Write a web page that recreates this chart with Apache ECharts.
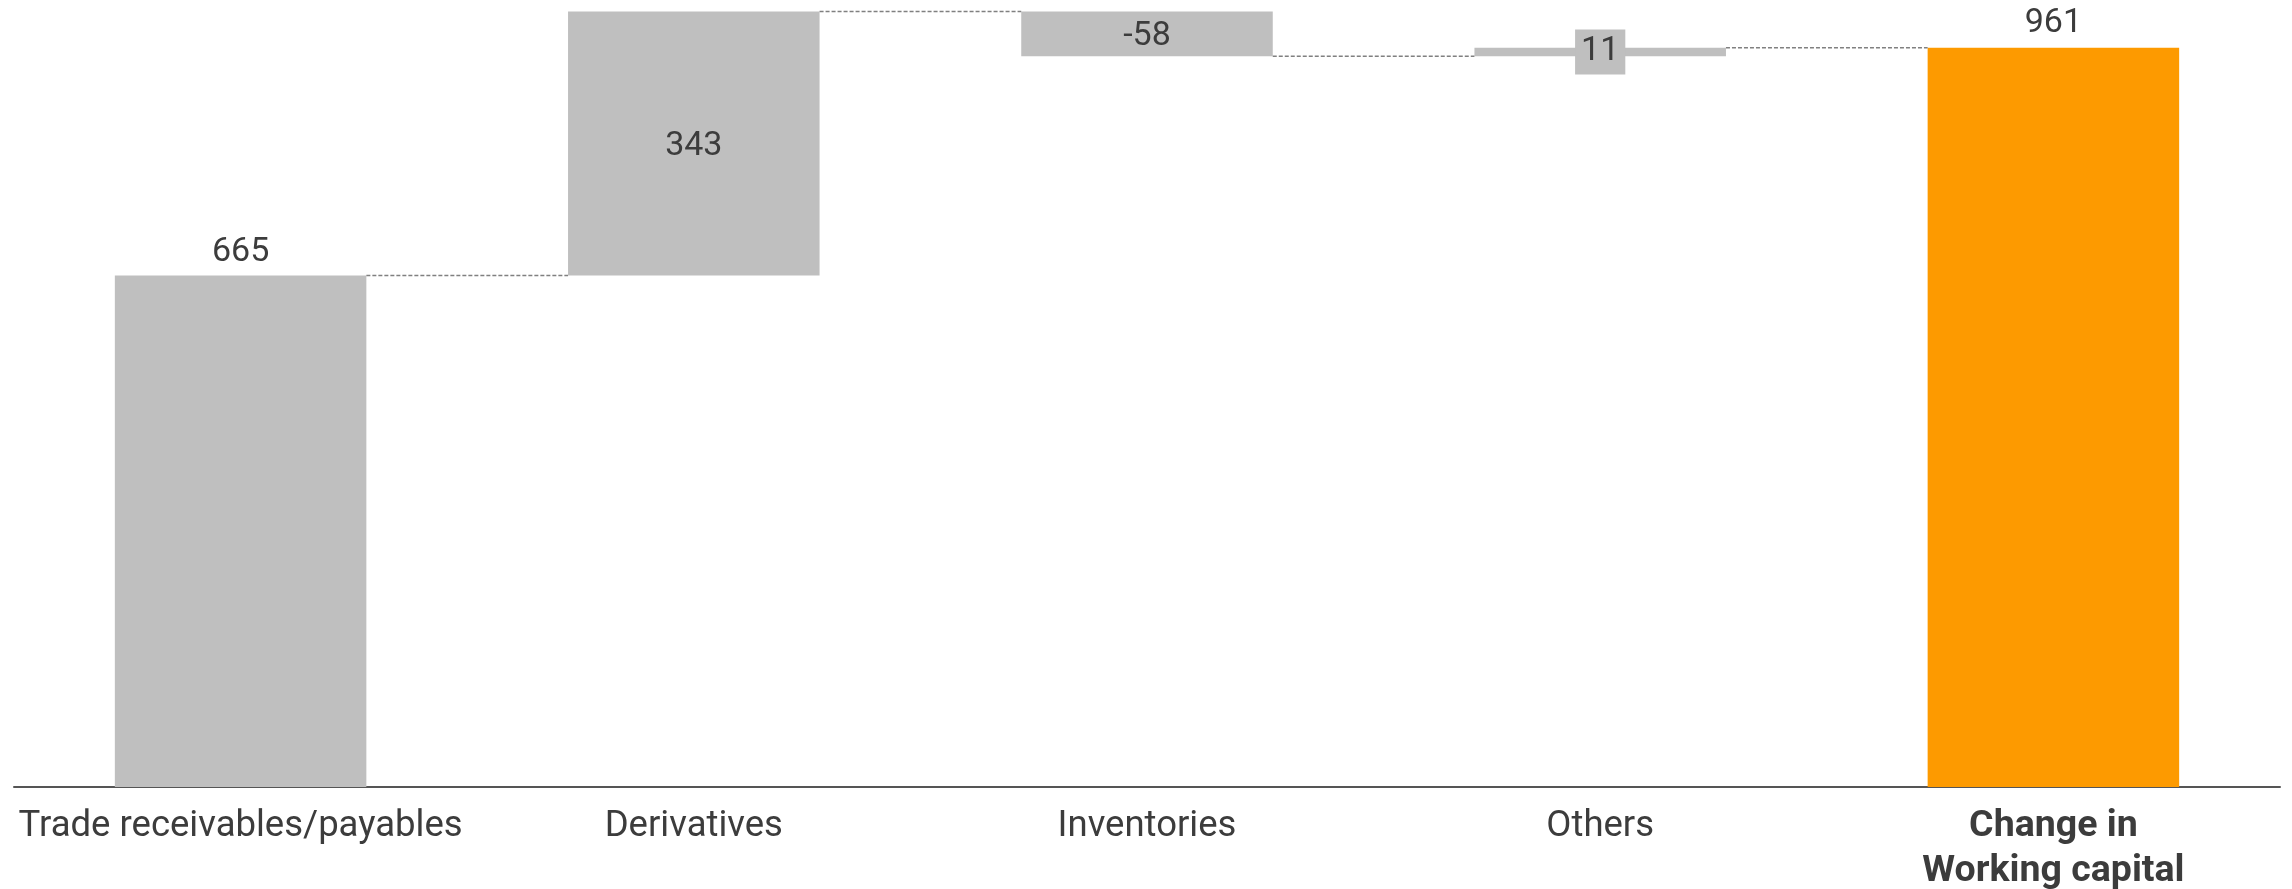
<!DOCTYPE html>
<html>
<head>
<meta charset="utf-8">
<script src="https://cdn.jsdelivr.net/npm/echarts@6/dist/echarts.min.js"></script>
<style>
	html, body { margin: 0; padding: 0; background: #fff; }
	#chart { width: 2292px; height: 889px; }
</style>
</head>
<body>
<div id="chart"></div>
<script>
// waterfall data
var categories = ['Trade receivables/payables', 'Derivatives', 'Inventories', 'Others', 'Change in\nWorking capital'];
var changes = [665, 343, -58, 11];
var total = 961;

var GREY = '#bfbfbf';
var ORANGE = '#fd9a00';
var TEXT = '#3c3c3c';
var FONT = 'Roboto, "Liberation Sans", sans-serif';

// build base / visible parts and connector levels
var baseData = [];
var valueData = [];
var levels = [];
var running = 0;
for (var i = 0; i < changes.length; i++) {
	var v = changes[i];
	var next = running + v;
	baseData.push(Math.min(running, next));
	var item = {
		value: Math.abs(v),
		raw: v,
		itemStyle: { color: GREY },
		label: { position: 'inside', offset: [0, 3] }
	};
	if (i == 0) {
		item.label = { position: 'top', distance: 6 };
	}
	if (Math.abs(v) < 30) {
		item.label = {
			position: 'inside',
			backgroundColor: GREY,
			padding: [5, 6, 5, 6],
			lineHeight: 35
		};
	}
	valueData.push(item);
	running = next;
	levels.push([i, running]);
}
baseData.push(0);
valueData.push({
	value: total,
	raw: total,
	itemStyle: { color: ORANGE },
	label: { position: 'top', distance: 7 }
});

var xLabels = categories.map(function(c, idx) {
	if (idx == categories.length - 1) {
		return { value: c, textStyle: { fontWeight: 'bold', fontSize: 37.5 } };
	}
	return c;
});

var BAR_RATIO = 0.555;

var option = {
	animation: false,
	grid: { left: 14, right: 12, top: 0, bottom: 102, containLabel: false, outerBoundsMode: 'none' },
	xAxis: {
		type: 'category',
		data: xLabels,
		axisTick: { show: false },
		axisLine: { lineStyle: { color: '#555555', width: 2 } },
		axisLabel: {
			color: TEXT,
			fontFamily: FONT,
			fontSize: 36.5,
			lineHeight: 45,
			margin: 17,
			interval: 0
		}
	},
	yAxis: {
		type: 'value',
		min: 0,
		max: 1023,
		show: false,
		splitLine: { show: false }
	},
	series: [
		{
			type: 'bar',
			stack: 'wf',
			data: baseData,
			barWidth: (BAR_RATIO * 100) + '%',
			itemStyle: { color: 'transparent' },
			silent: true
		},
		{
			type: 'bar',
			stack: 'wf',
			data: valueData,
			barWidth: (BAR_RATIO * 100) + '%',
			label: {
				show: true,
				color: TEXT,
				fontFamily: FONT,
				fontSize: 34,
				formatter: function(p) { return p.data.raw; }
			}
		},
		{
			type: 'custom',
			data: levels,
			z: 5,
			renderItem: function(params, api) {
				var p = api.coord([api.value(0), api.value(1)]);
				var bw = api.size([1, 0])[0];
				var half = bw * BAR_RATIO / 2;
				return {
					type: 'line',
					shape: { x1: p[0] + half, y1: p[1], x2: p[0] + bw - half, y2: p[1] },
					style: { stroke: '#808080', lineWidth: 1.5, lineDash: [4, 2] }
				};
			}
		}
	]
};

var chart = echarts.init(document.getElementById('chart'));
chart.setOption(option);
</script>
</body>
</html>
